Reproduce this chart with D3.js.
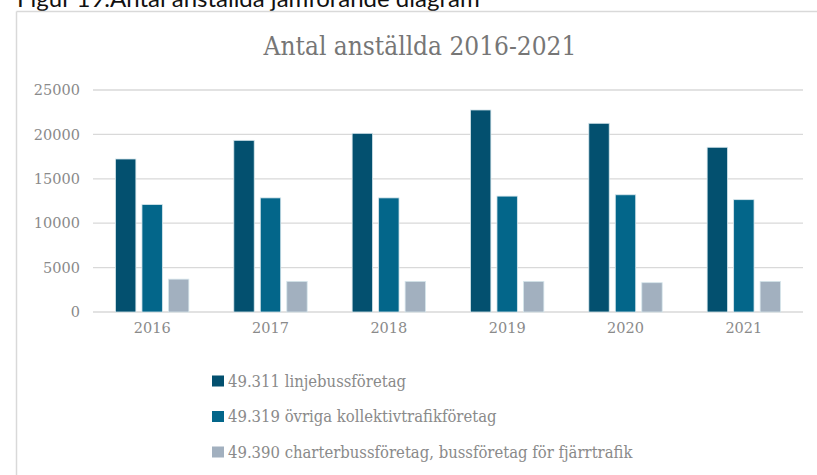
<!DOCTYPE html>
<html>
<head>
<meta charset="utf-8">
<script src="https://cdn.jsdelivr.net/npm/d3@7"></script>
<style>
  body{margin:0;background:#fff;}
  svg{display:block;}
</style>
</head>
<body>
<div id="chart"></div>
<script>
// data
var years=["2016","2017","2018","2019","2020","2021"];
var seriesNames=["49.311 linjebussföretag","49.319 övriga kollektivtrafikföretag","49.390 charterbussföretag, bussföretag för fjärrtrafik"];
var linjebuss=[17230,19330,20120,22750,21250,18550];
var ovriga=[12100,12850,12850,13050,13200,12650];
var charter=[3700,3450,3450,3450,3300,3450];
var yTicks=[0,5000,10000,15000,20000,25000];
var colors=["#03506f","#03668a","#a2b0bf"];

var W=817,H=475;
var serif="'DejaVu Serif', serif";
var serifC="'DejaVu Serif Condensed', 'DejaVu Serif', serif";
var svg=d3.select("#chart").append("svg").attr("width",W).attr("height",H);

// bildtext, avskuren i överkant
svg.append("text")
    .attr("x",17).attr("y",7)
    .attr("font-family","Lato, 'Open Sans', sans-serif")
    .attr("font-size","24px")
    .attr("fill","#111")
    .text("Figur 19.Antal anställda jämförande diagram");

// diagramram
svg.append("line").attr("x1",16.5).attr("y1",11.5).attr("x2",W).attr("y2",11.5)
    .attr("stroke","#d9d9d9").attr("stroke-width",1.5);
svg.append("line").attr("x1",16.5).attr("y1",11.5).attr("x2",16.5).attr("y2",H)
    .attr("stroke","#d9d9d9").attr("stroke-width",1.5);

// titel
svg.append("text")
    .attr("x",420).attr("y",55)
    .attr("text-anchor","middle")
    .attr("font-family",serifC)
    .attr("font-size","26px")
    .attr("fill","#767676")
    .text("Antal anställda 2016-2021");

// skalor
var x0=d3.scaleBand().domain(years).range([93,803]).paddingInner(0.38).paddingOuter(0.19);
var x1=d3.scaleBand().domain([0,1,2]).range([0,x0.bandwidth()]).paddingInner(0.23);
var y=d3.scaleLinear().domain([0,25000]).range([312,90]);

// stödlinjer
svg.append("g").selectAll("line")
    .data(yTicks).enter().append("line")
    .attr("x1",93).attr("x2",803)
    .attr("y1",function(d){return y(d);})
    .attr("y2",function(d){return y(d);})
    .attr("stroke","#d9d9d9").attr("stroke-width",1.3);

// y-axel
var yaxis=d3.axisLeft(y).tickValues(yTicks).tickSize(0).tickPadding(0).tickFormat(d3.format("d"));
var gy=svg.append("g").attr("transform","translate(80,0)").call(yaxis);
gy.select(".domain").remove();
gy.selectAll("text")
    .attr("font-family",serif)
    .attr("font-size","14.5px")
    .attr("fill","#8a8a8a");

// x-axel
var xaxis=d3.axisBottom(x0).tickSize(0).tickPadding(0);
var gx=svg.append("g").attr("transform","translate(0,323)").call(xaxis);
gx.select(".domain").remove();
gx.selectAll("text")
    .attr("font-family",serif)
    .attr("font-size","14.5px")
    .attr("fill","#8a8a8a");

// staplar
var allSeries=[linjebuss,ovriga,charter];
allSeries.forEach(function(vals,s){
    svg.append("g").selectAll("rect")
        .data(vals).enter().append("rect")
        .attr("x",function(d,i){return x0(years[i])+x1(s);})
        .attr("y",function(d){return y(d);})
        .attr("width",x1.bandwidth())
        .attr("height",function(d){return y(0)-y(d);})
        .attr("fill",colors[s])
        .attr("stroke","#d6e6ec")
        .attr("stroke-width",0.8);
});

// förklaring
var lg=svg.append("g").selectAll("g")
    .data(seriesNames).enter().append("g")
    .attr("transform",function(d,i){return "translate(212,"+(381+i*35.5)+")";});
lg.append("rect").attr("x",0).attr("y",-5.5).attr("width",12).attr("height",11)
    .attr("fill",function(d,i){return colors[i];});
lg.append("text").attr("x",16).attr("y",5.5)
    .attr("font-family",serifC)
    .attr("font-size","16.5px")
    .attr("fill","#8a8a8a")
    .text(function(d){return d;});
</script>
</body>
</html>
